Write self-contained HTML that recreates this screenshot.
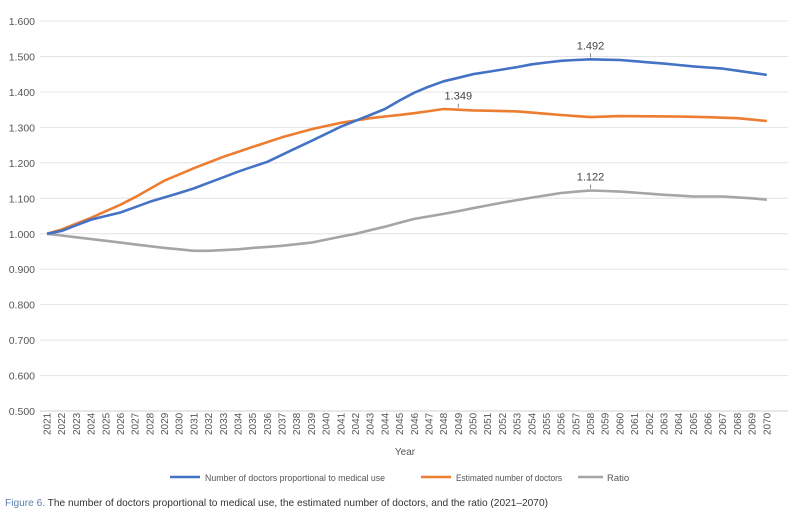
<!DOCTYPE html>
<html><head><meta charset="utf-8"><style>
html,body{margin:0;padding:0;background:#fff;width:800px;height:512px;overflow:hidden}
svg{display:block;font-family:"Liberation Sans",sans-serif}
</style></head><body>
<svg id="s" width="800" height="512" xmlns="http://www.w3.org/2000/svg"></svg>
<script>
const s=document.getElementById('s');
const X=i=>47+i*14.69, Y=v=>411-(v-0.5)*354.5;
let h='';
for(let k=0;k<=11;k++){const v=0.5+k*0.1,y=Y(v).toFixed(1);
h+=`<line x1="40" x2="788" y1="${y}" y2="${y}" stroke="${k?'#e4e4e4':'#d0d0d0'}" stroke-width="1"/>`;
h+=`<text x="35" y="${+y+4}" font-size="10.5" fill="#555" text-anchor="end">${v.toFixed(3)}</text>`;}
for(let i=0;i<50;i++){const x=X(i)+3.5;h+=`<text transform="translate(${x.toFixed(1)},435) rotate(-90)" font-size="10" fill="#555">${2021+i}</text>`;}
function interp(pts){const a=[];for(let i=0;i<pts.length-1;i++){const[y0,v0]=pts[i],[y1,v1]=pts[i+1];for(let y=y0;y<y1;y++)a.push(v0+(v1-v0)*(y-y0)/(y1-y0));}a.push(pts[pts.length-1][1]);return a;}
const blue=interp([[2021,1],[2022,1.008],[2024,1.04],[2026,1.06],[2028,1.09],[2030,1.115],[2031,1.128],[2034,1.175],[2036,1.203],[2039,1.262],[2041,1.302],[2043,1.335],[2044,1.352],[2045,1.376],[2046,1.398],[2047,1.415],[2048,1.43],[2050,1.45],[2053,1.47],[2054,1.478],[2056,1.488],[2058,1.492],[2060,1.49],[2063,1.48],[2065,1.472],[2067,1.466],[2070,1.448]]);
const orange=interp([[2021,1],[2022,1.012],[2024,1.045],[2026,1.082],[2027,1.103],[2029,1.15],[2031,1.185],[2033,1.217],[2035,1.245],[2037,1.272],[2039,1.295],[2041,1.313],[2043,1.326],[2046,1.34],[2048,1.352],[2050,1.348],[2053,1.345],[2056,1.335],[2058,1.329],[2060,1.332],[2063,1.331],[2065,1.33],[2068,1.326],[2070,1.318]]);
const gray=interp([[2021,1],[2023,0.99],[2025,0.98],[2027,0.97],[2029,0.96],[2031,0.952],[2032,0.952],[2034,0.956],[2035,0.96],[2037,0.966],[2039,0.975],[2041,0.992],[2042,1.0],[2044,1.02],[2046,1.042],[2048,1.056],[2050,1.072],[2052,1.088],[2054,1.102],[2056,1.115],[2058,1.122],[2060,1.119],[2063,1.11],[2065,1.105],[2067,1.105],[2069,1.1],[2070,1.096]]);
const line=(a,c)=>`<polyline fill="none" stroke="${c}" stroke-width="2.6" stroke-linejoin="round" points="${a.map((v,i)=>X(i).toFixed(1)+','+Y(v).toFixed(1)).join(' ')}"/>`;
h+=line(gray,'#a5a5a5')+line(orange,'#ed7d31')+line(blue,'#4472c4');
const lab=(yr,v,t)=>{const x=X(yr-2021),y=Y(v);return `<line x1="${x}" x2="${x}" y1="${y-2}" y2="${y-6}" stroke="#888"/><text x="${x}" y="${y-10}" font-size="11" fill="#444" text-anchor="middle">${t}</text>`;};
h+=lab(2058,1.492,'1.492')+lab(2049,1.350,'1.349')+lab(2058,1.122,'1.122');
h+=`<text x="405" y="455" font-size="10" fill="#555" text-anchor="middle">Year</text>`;
h+=`<line x1="170" x2="200" y1="477" y2="477" stroke="#4472c4" stroke-width="2.6"/><text x="205" y="481" font-size="9.5" fill="#555" textLength="180" lengthAdjust="spacingAndGlyphs">Number of doctors proportional to medical use</text>`;
h+=`<line x1="421" x2="451" y1="477" y2="477" stroke="#ed7d31" stroke-width="2.6"/><text x="456" y="481" font-size="9.5" fill="#555" textLength="106" lengthAdjust="spacingAndGlyphs">Estimated number of doctors</text>`;
h+=`<line x1="578" x2="603" y1="477" y2="477" stroke="#a5a5a5" stroke-width="2.6"/><text x="607" y="481" font-size="9.5" fill="#555">Ratio</text>`;
h+=`<text x="5" y="506" font-size="10.5" fill="#333" textLength="543" lengthAdjust="spacingAndGlyphs"><tspan fill="#5a7fb0">Figure 6.</tspan> The number of doctors proportional to medical use, the estimated number of doctors, and the ratio (2021–2070)</text>`;
s.innerHTML=h;
</script>
</body></html>
